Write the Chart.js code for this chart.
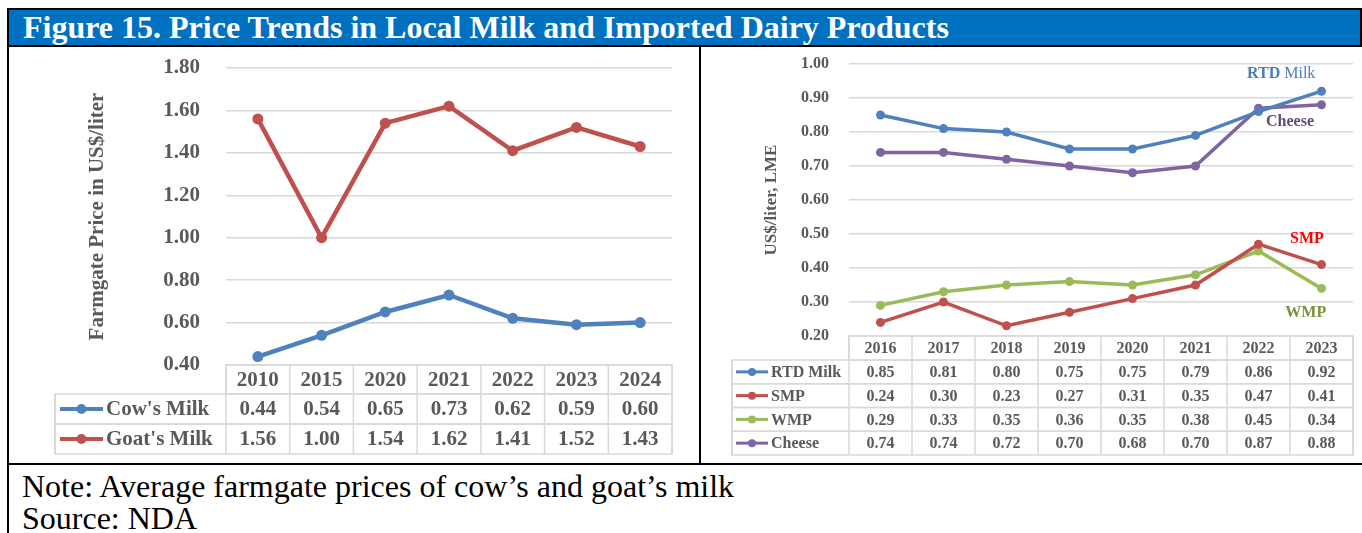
<!DOCTYPE html>
<html>
<head>
<meta charset="utf-8">
<script src="https://cdn.jsdelivr.net/npm/chart.js@4.4.1/dist/chart.umd.min.js"></script>
<style>
  body { margin: 0; width: 1362px; height: 533px; background: #fff; overflow: hidden; position: relative; font-family: "Liberation Serif", "Times New Roman", serif; }
  .line { position: absolute; background: #000; }
  #titleBar { position: absolute; left: 7px; top: 8px; width: 1355px; height: 39px; box-sizing: border-box;
    background: #0070C0; border: 2px solid #000; color: #fff; font-weight: bold; font-size: 32px;
    line-height: 34px; padding-left: 14px; white-space: nowrap; }
  .box { position: absolute; }
  .note { position: absolute; left: 22px; font-size: 32px; white-space: nowrap; color: #000; line-height: 34px; }
</style>
</head>
<body>
<div id="titleBar">Figure 15. Price Trends in Local Milk and Imported Dairy Products</div>
<div class="line" style="left:7px; top:45px; width:2px; height:488px;"></div>
<div class="line" style="left:699px; top:45px; width:2px; height:419px;"></div>
<div class="line" style="left:7px; top:463px; width:1355px; height:2px;"></div>

<div class="box" style="left:9px; top:47px; width:690px; height:416px;"><canvas id="localChart" width="690" height="416"></canvas></div>
<div class="box" style="left:701px; top:47px; width:661px; height:416px;"><canvas id="importChart" width="661" height="416"></canvas></div>

<div class="note" style="top:469px;">Note: Average farmgate prices of cow’s and goat’s milk</div>
<div class="note" style="top:501px;">Source: NDA</div>

<script>
// Local farmgate prices (left chart)
const localYears = ['2010', '2015', '2020', '2021', '2022', '2023', '2024'];
const cowsMilk = [0.44, 0.54, 0.65, 0.73, 0.62, 0.59, 0.60];
const goatsMilk = [1.56, 1.00, 1.54, 1.62, 1.41, 1.52, 1.43];

// Imported dairy products (right chart)
const importYears = ['2016', '2017', '2018', '2019', '2020', '2021', '2022', '2023'];
const rtdMilk = [0.85, 0.81, 0.80, 0.75, 0.75, 0.79, 0.86, 0.92];
const smp = [0.24, 0.30, 0.23, 0.27, 0.31, 0.35, 0.47, 0.41];
const wmp = [0.29, 0.33, 0.35, 0.36, 0.35, 0.38, 0.45, 0.34];
const cheese = [0.74, 0.74, 0.72, 0.70, 0.68, 0.70, 0.87, 0.88];

const BLUE = '#4F81BD', RED = '#C0504D', GREEN = '#9BBB59', PURPLE = '#8064A2';
const TEXT = '#595959', GRID = '#D9D9D9';
const FONT = '"Liberation Serif", "Times New Roman", serif';

// Data table drawn under the plot area, aligned to the x scale columns
const tablePlugin = {
    id: 'dataTable',
    afterDraw(chart) {
        const cfg = chart.options.plugins.dataTable;
        if (!cfg) return;
        const ctx = chart.ctx;
        const x = chart.scales.x;
        const area = chart.chartArea;
        const n = chart.data.labels.length;
        const colW = (area.right - area.left) / n;
        const top = area.bottom;
        const bottom = top + cfg.headerH + cfg.rowH * chart.data.datasets.length;

        ctx.save();
        ctx.strokeStyle = GRID;
        ctx.lineWidth = 1.5;
        ctx.font = 'bold ' + cfg.fontSize + 'px ' + FONT;
        ctx.fillStyle = TEXT;
        ctx.textBaseline = 'middle';

        // header row
        ctx.strokeRect(area.left, top, area.right - area.left, cfg.headerH);
        ctx.textAlign = 'center';
        chart.data.labels.forEach((lab, i) => {
            ctx.fillText(lab, x.getPixelForValue(i), top + cfg.headerH / 2 + 1);
        });

        // data rows
        chart.data.datasets.forEach((ds, r) => {
            const y0 = top + cfg.headerH + r * cfg.rowH;
            const yc = y0 + cfg.rowH / 2 + 1;
            ctx.strokeRect(cfg.legendLeft, y0, area.right - cfg.legendLeft, cfg.rowH);
            // legend key
            ctx.save();
            ctx.strokeStyle = ds.borderColor;
            ctx.lineWidth = cfg.keyLine;
            ctx.beginPath();
            ctx.moveTo(cfg.legendLeft + cfg.keyStart, yc - 1);
            ctx.lineTo(cfg.legendLeft + cfg.keyEnd, yc - 1);
            ctx.stroke();
            ctx.fillStyle = ds.borderColor;
            ctx.beginPath();
            ctx.arc(cfg.legendLeft + (cfg.keyStart + cfg.keyEnd) / 2, yc - 1, cfg.keyDot, 0, Math.PI * 2);
            ctx.fill();
            ctx.restore();
            ctx.textAlign = 'left';
            ctx.fillText(ds.label, cfg.legendLeft + cfg.keyEnd + 3, yc);
            ctx.textAlign = 'center';
            ds.data.forEach((v, i) => {
                ctx.fillText(v.toFixed(2), x.getPixelForValue(i), yc);
            });
        });

        // column separators
        ctx.beginPath();
        for (let i = 0; i <= n; i++) {
            const cx = area.left + i * colW;
            ctx.moveTo(cx, top);
            ctx.lineTo(cx, bottom);
        }
        ctx.moveTo(cfg.legendLeft, top + cfg.headerH);
        ctx.lineTo(cfg.legendLeft, bottom);
        ctx.stroke();
        ctx.restore();
    }
};

// Series name labels placed in data coordinates
const seriesLabelPlugin = {
    id: 'seriesLabels',
    afterDatasetsDraw(chart) {
        const items = chart.options.plugins.seriesLabels;
        if (!items) return;
        const ctx = chart.ctx;
        const area = chart.chartArea;
        const colW = (area.right - area.left) / chart.data.labels.length;
        ctx.save();
        ctx.textBaseline = 'middle';
        items.forEach(it => {
            const cx = area.left + (it.col + 0.5) * colW;
            const cy = chart.scales.y.getPixelForValue(it.value);
            let w = 0;
            it.parts.forEach(p => { ctx.font = p.weight + ' 16px ' + FONT; w += ctx.measureText(p.text).width; });
            let px = cx - w / 2;
            ctx.fillStyle = it.color;
            ctx.textAlign = 'left';
            it.parts.forEach(p => {
                ctx.font = p.weight + ' 16px ' + FONT;
                ctx.fillText(p.text, px, cy);
                px += ctx.measureText(p.text).width;
            });
        });
        ctx.restore();
    }
};

function lineSet(label, data, color, width, radius) {
    return {
        label: label,
        data: data,
        borderColor: color,
        backgroundColor: color,
        pointBackgroundColor: color,
        pointBorderColor: color,
        borderWidth: width,
        pointRadius: radius,
        pointBorderWidth: 0,
        tension: 0,
        fill: false
    };
}

function yAxis(min, max, step, width, tickSize, tickPad, title, titleSize, titlePad) {
    return {
        min: min,
        max: max,
        afterFit: scale => {
            scale.width = width;
            scale.paddingTop = 0;
            scale.paddingBottom = 0;
        },
        ticks: {
            stepSize: step,
            padding: tickPad,
            color: TEXT,
            font: { family: FONT, size: tickSize, weight: 'bold' },
            callback: v => v.toFixed(2)
        },
        grid: { color: GRID, lineWidth: 1.5, drawTicks: false },
        border: { display: false },
        title: {
            display: true,
            text: title,
            color: TEXT,
            font: { family: FONT, size: titleSize, weight: 'bold' },
            padding: { top: titlePad, bottom: 0 }
        }
    };
}

new Chart(document.getElementById('localChart'), {
    type: 'line',
    data: {
        labels: localYears,
        datasets: [
            lineSet("Cow's Milk", cowsMilk, BLUE, 4.5, 5.5),
            lineSet("Goat's Milk", goatsMilk, RED, 4.5, 5.5)
        ]
    },
    plugins: [tablePlugin],
    options: {
        responsive: false,
        animation: false,
        layout: { padding: { left: 0, right: 27, top: 21, bottom: 98 } },
        plugins: {
            legend: { display: false },
            tooltip: { enabled: false },
            dataTable: { headerH: 29, rowH: 30, fontSize: 21, legendLeft: 46, keyStart: 5, keyEnd: 48, keyLine: 4, keyDot: 5 }
        },
        scales: {
            x: { type: 'category', offset: true, display: false },
            y: yAxis(0.4, 1.8, 0.2, 217, 21, 26, 'Farmgate Price in US$/liter', 21, 76)
        }
    }
});

new Chart(document.getElementById('importChart'), {
    type: 'line',
    data: {
        labels: importYears,
        datasets: [
            lineSet('RTD Milk', rtdMilk, BLUE, 3.5, 4.5),
            lineSet('SMP', smp, RED, 3.5, 4.5),
            lineSet('WMP', wmp, GREEN, 3.5, 4.5),
            lineSet('Cheese', cheese, PURPLE, 3.5, 4.5)
        ]
    },
    plugins: [tablePlugin, seriesLabelPlugin],
    options: {
        responsive: false,
        animation: false,
        layout: { padding: { left: 0, right: 9, top: 17, bottom: 127 } },
        plugins: {
            legend: { display: false },
            tooltip: { enabled: false },
            dataTable: { headerH: 24, rowH: 23.75, fontSize: 16, legendLeft: 31, keyStart: 4, keyEnd: 36, keyLine: 3, keyDot: 4 },
            seriesLabels: [
                { parts: [{ text: 'RTD', weight: 'bold' }, { text: ' Milk', weight: 'normal' }], color: '#4A7EBB', col: 6.36, value: 0.970 },
                { parts: [{ text: 'Cheese', weight: 'bold' }], color: '#604A7B', col: 6.5, value: 0.829 },
                { parts: [{ text: 'SMP', weight: 'bold' }], color: '#FF0000', col: 6.77, value: 0.485 },
                { parts: [{ text: 'WMP', weight: 'bold' }], color: '#77933C', col: 6.75, value: 0.268 }
            ]
        },
        scales: {
            x: { type: 'category', offset: true, display: false },
            y: yAxis(0.2, 1.0, 0.1, 148, 16, 20, 'US$/liter, LME', 17, 60)
        }
    }
});
</script>
</body>
</html>
